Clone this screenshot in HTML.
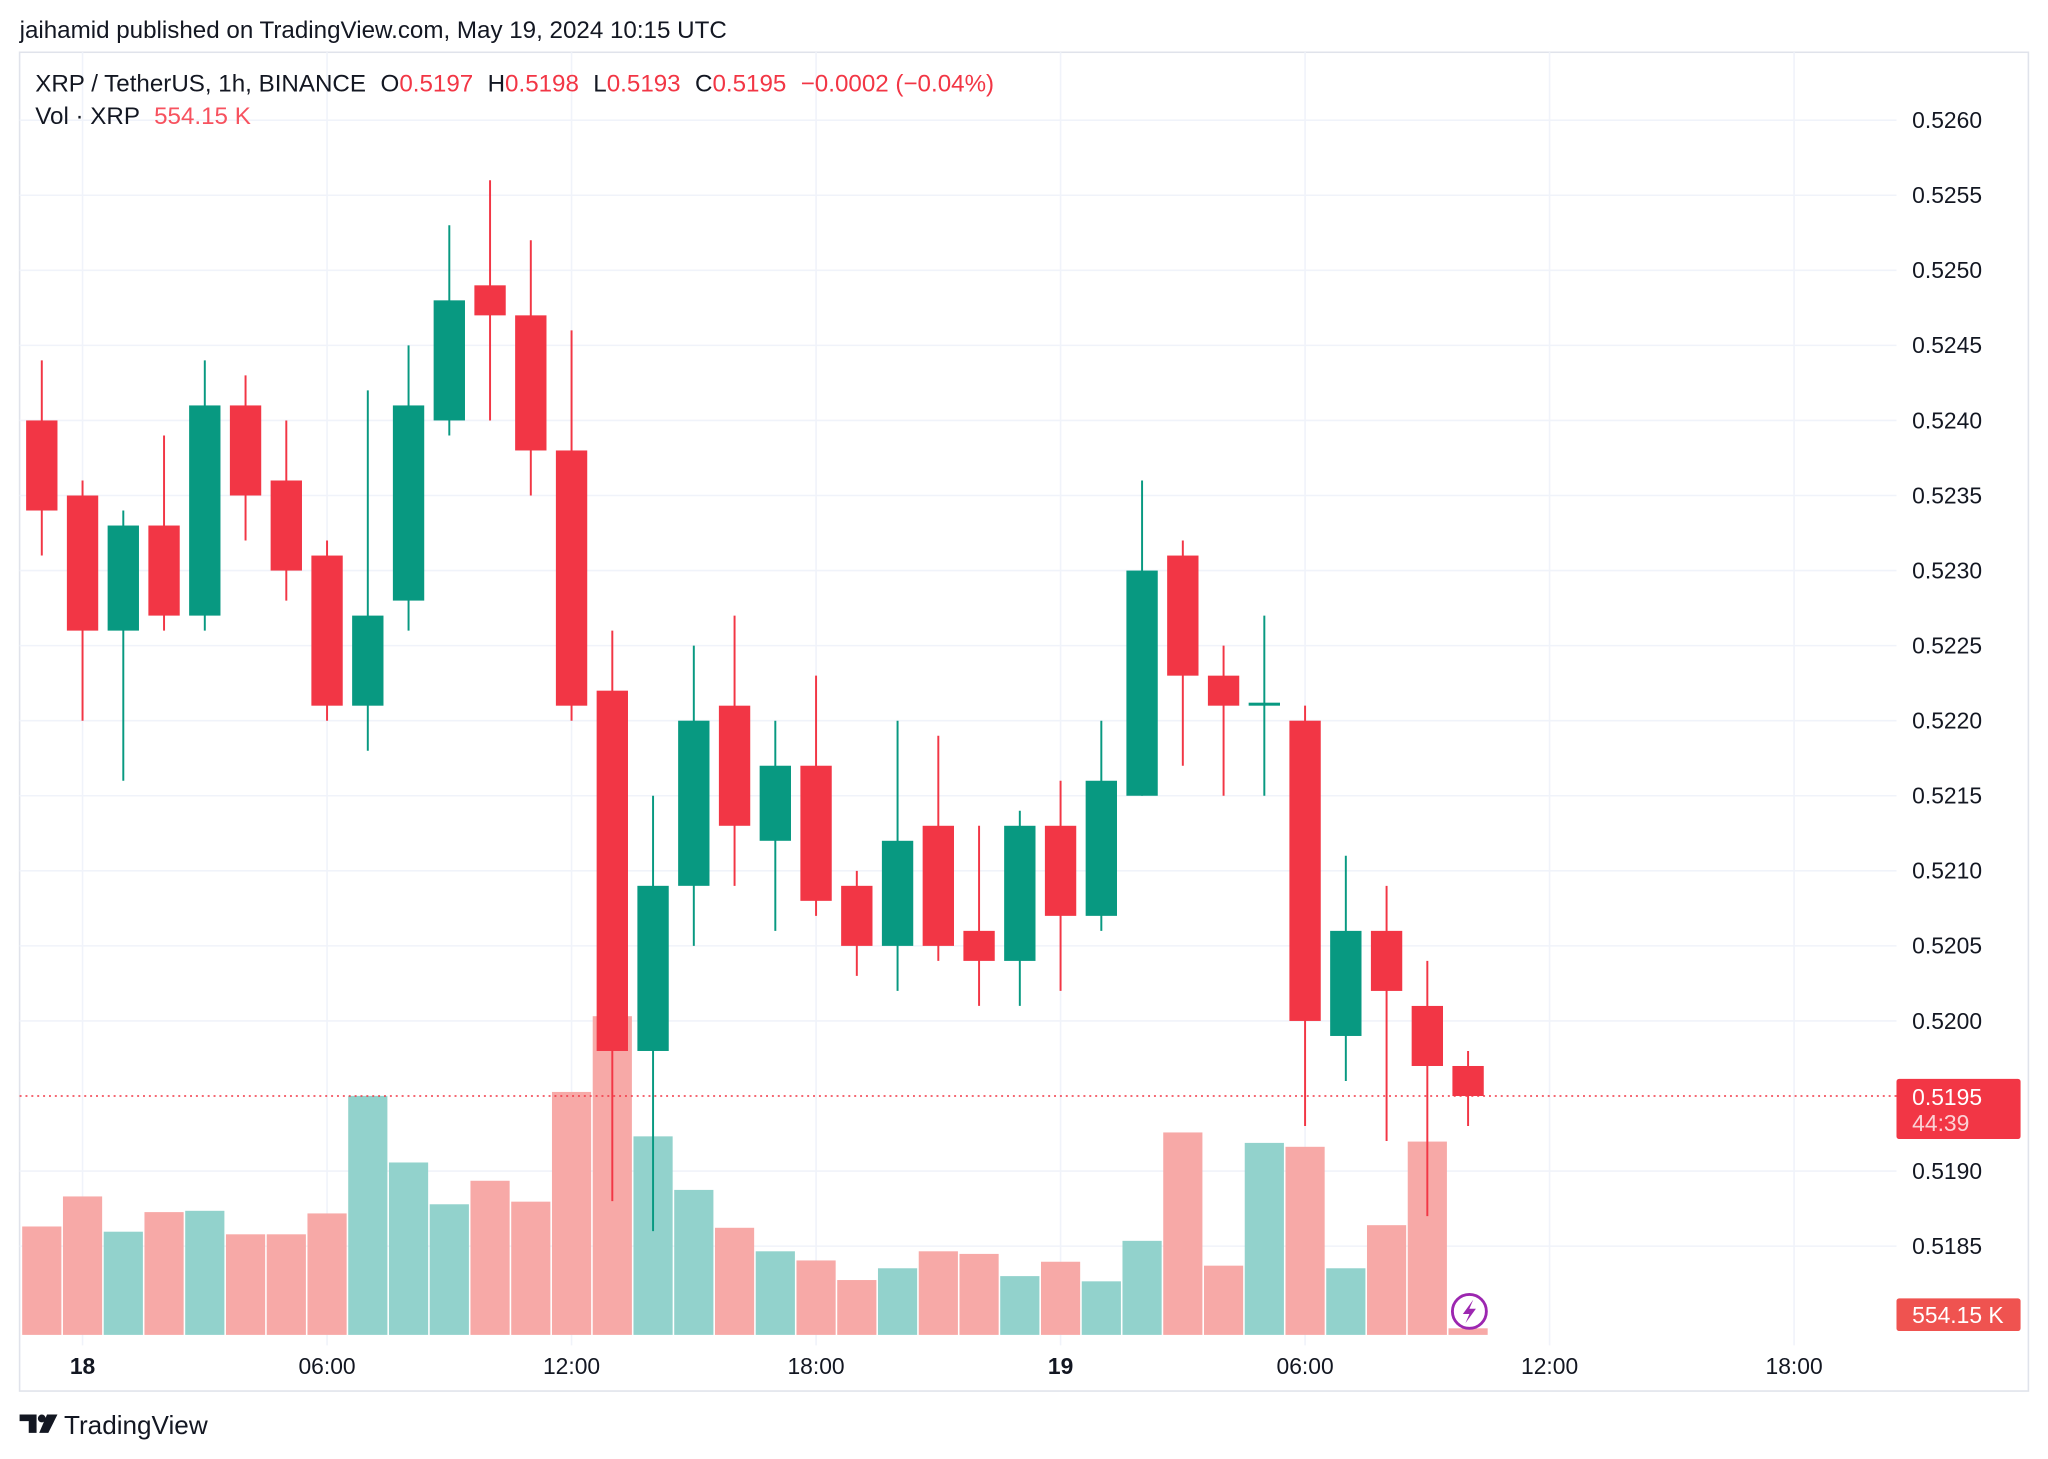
<!DOCTYPE html>
<html><head><meta charset="utf-8"><style>
html,body{margin:0;padding:0;background:#fff;}
svg{display:block;font-family:"Liberation Sans",sans-serif;}
</style></head><body>
<svg id="chart" width="2048" height="1459" viewBox="0 0 1568 1117" xmlns="http://www.w3.org/2000/svg">
<rect x="0" y="0" width="1568" height="1117" fill="#fff"/>
<text x="15" y="29" font-size="18.5" fill="#131722">jaihamid published on TradingView.com, May 19, 2024 10:15 UTC</text>
<rect x="15" y="40" width="1538" height="1025" fill="none" stroke="#e0e3eb" stroke-width="1.2"/>
<g id="grid"></g>
<g id="vol"></g>
<g id="candles"></g>
<line id="curline" x1="15" x2="1452" stroke="#f23645" stroke-width="1.2" stroke-dasharray="1.5,3"/>
<g id="yaxis"></g>
<g id="xaxis"></g>
<g font-size="18.5">
<text x="27" y="70" fill="#131722">XRP / TetherUS, 1h, BINANCE <tspan dx="6">O</tspan><tspan fill="#f23645">0.5197</tspan><tspan dx="11">H</tspan><tspan fill="#f23645">0.5198</tspan><tspan dx="11">L</tspan><tspan fill="#f23645">0.5193</tspan><tspan dx="11">C</tspan><tspan fill="#f23645">0.5195</tspan><tspan dx="11" fill="#f23645">−0.0002 (−0.04%)</tspan></text>
<text x="27" y="95" fill="#131722">Vol · XRP <tspan dx="6" fill="#f7525f">554.15 K</tspan></text>
</g>
<g>
<rect x="1452" y="826" width="95" height="46" rx="2" fill="#f23645"/>
<text x="1464" y="846" font-size="17.5" fill="#fff">0.5195</text>
<text x="1464" y="866" font-size="17.5" fill="#fbd1d5">44:39</text>
</g>
<g>
<rect x="1452" y="994" width="95" height="25" rx="2" fill="#ef5350"/>
<text x="1464" y="1013" font-size="17.5" fill="#fff">554.15 K</text>
</g>
<g>
<circle cx="1125" cy="1004" r="13" fill="#fff" stroke="#9c27b0" stroke-width="2.2"/>
<path d="M1128 995 L1120 1006 L1125 1006 L1122 1013 L1130 1002 L1125 1002 Z" fill="#9c27b0"/>
</g>
<g>
<path d="M15 1083 h13 v14 h-6 v-9 h-7 Z" fill="#131722"/>
<circle cx="32" cy="1086" r="3" fill="#131722"/>
<path d="M36 1083 h8 l-7 14 h-7 Z" fill="#131722"/>
<text x="49" y="1098" font-size="20" fill="#131722">TradingView</text>
</g>
</svg>
<script>
const times=["23","00","01","02","03","04","05","06","07","08","09","10","11","12","13","14","15","16","17","18","19","20","21","22","23","00","01","02","03","04","05","06","07","08","09","10"];
const opens=[.5240,.5235,.5226,.5233,.5227,.5241,.5236,.5231,.5221,.5228,.5240,.5249,.5247,.5238,.5222,.5198,.5209,.5221,.5212,.5217,.5209,.5205,.5213,.5206,.5204,.5213,.5207,.5215,.5231,.5223,.5221,.5220,.5199,.5206,.5201,.5197];
const closes=[.5234,.5226,.5233,.5227,.5241,.5235,.5230,.5221,.5227,.5241,.5248,.5247,.5238,.5221,.5198,.5209,.5220,.5213,.5217,.5208,.5205,.5212,.5205,.5204,.5213,.5207,.5216,.5230,.5223,.5221,.52212,.5200,.5206,.5202,.5197,.5195];
const highs=[.5244,.5236,.5234,.5239,.5244,.5243,.5240,.5232,.5242,.5245,.5253,.5256,.5252,.5246,.5226,.5215,.5225,.5227,.5220,.5223,.5210,.5220,.5219,.5213,.5214,.5216,.5220,.5236,.5232,.5225,.5227,.5221,.5211,.5209,.5204,.5198];
const lows=[.5231,.5220,.5216,.5226,.5226,.5232,.5228,.5220,.5218,.5226,.5239,.5240,.5235,.5220,.5188,.5186,.5205,.5209,.5206,.5207,.5203,.5202,.5204,.5201,.5201,.5202,.5206,.5215,.5217,.5215,.5215,.5193,.5196,.5192,.5187,.5193];
const volumes=[9130,11660,8690,10340,10450,8470,8470,10230,20130,14520,11000,12980,11220,20460,26840,16720,12210,9020,7040,6270,4620,5610,7040,6820,4950,6160,4510,7920,17050,5830,16170,15840,5610,9240,16280,554];
const priceTicks=["0.5260","0.5255","0.5250","0.5245","0.5240","0.5235","0.5230","0.5225","0.5220","0.5215","0.5210","0.5205","0.5200","0.5195","0.5190","0.5185"];
const timeTicks=["18","06:00","12:00","18:00","19","06:00","12:00","18:00"];
const timeTickHours=[1,7,13,19,25,31,37,43];
const lastPrice=0.5195;

const NS="http://www.w3.org/2000/svg";
function yP(p){return 92+(0.5260-p)/0.0005*57.47;}
function xI(i){return 32+i*31.2;}
function yV(v){return 1022-v/110;}
function mk(tag,attrs,parent){const e=document.createElementNS(NS,tag);for(const k in attrs)e.setAttribute(k,attrs[k]);parent.appendChild(e);return e;}
const grid=document.getElementById('grid'),vol=document.getElementById('vol'),cg=document.getElementById('candles'),ya=document.getElementById('yaxis'),xa=document.getElementById('xaxis');
priceTicks.forEach(t=>{
  if(t==="0.5195")return;
  const y=yP(parseFloat(t));
  const l=mk('line',{x1:15,x2:1452,y1:y,y2:y,stroke:'#f0f3fa','stroke-width':1.2},grid);
  
  
  const tx=mk('text',{x:1464,y:y+6,'font-size':17.5,fill:'#131722'},ya);
  tx.textContent=t;
  
  
});
timeTicks.forEach((t,k)=>{
  const x=xI(timeTickHours[k]);
  const l=mk('line',{x1:x,x2:x,y1:40,y2:1030,stroke:'#f0f3fa','stroke-width':1.2},grid);
  
  
  const tx=mk('text',{x:x,y:1052,'font-size':17.5,fill:'#131722','text-anchor':'middle','font-weight':(t.length<=2?'bold':'normal')},xa);
  tx.textContent=t;
  
  
});
times.forEach((t,i)=>{
  const up=closes[i]>=opens[i];
  const x=xI(i);
  const vb=mk('rect',{x:x-15,y:yV(volumes[i]),width:30,height:1022-yV(volumes[i]),fill:up?'#92d2cc':'#f7a9a7'},vol);
  
  
  const col=up?'#089981':'#f23645';
  const g=mk('g',{},cg);
  
  
  mk('line',{x1:x,x2:x,y1:yP(highs[i]),y2:yP(lows[i]),stroke:col,'stroke-width':1.5},g);
  const top=yP(Math.max(opens[i],closes[i])),bot=yP(Math.min(opens[i],closes[i]));
  mk('rect',{x:x-12,y:top,width:24,height:Math.max(1.5,bot-top),fill:col},g);
});
const cl=document.getElementById('curline');
cl.setAttribute('y1',yP(lastPrice));cl.setAttribute('y2',yP(lastPrice));
</script>
</body></html>
